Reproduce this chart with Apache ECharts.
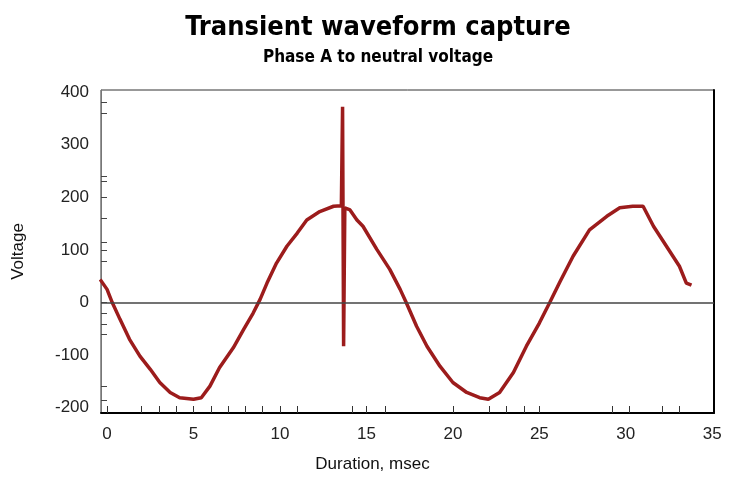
<!DOCTYPE html>
<html>
<head>
<meta charset="utf-8">
<title>Transient waveform capture</title>
<script src="https://cdn.jsdelivr.net/npm/echarts@6/dist/echarts.min.js"></script>
<style>
  html, body { margin: 0; padding: 0; background: #fff; }
  #chart { width: 730px; height: 490px; }
</style>
</head>
<body>
<div id="chart"></div>
<script>
// trace: time (ms) and voltage
var timeMs = [-0.4, 0, 0.3, 0.75, 1.3, 1.9, 2.5, 3.05, 3.65, 4.2, 5.0, 5.45, 5.95, 6.5, 7.3, 7.9,
  8.45, 8.85, 9.25, 9.8, 10.4, 11.0, 11.55, 12.3, 13.1, 13.55, 13.62, 13.68, 13.75, 14.05, 14.45,
  14.8, 15.6, 16.35, 16.95, 17.3, 17.9, 18.5, 19.25, 20.0, 20.8, 21.55, 22.05, 22.7, 23.5, 24.25,
  25.0, 25.6, 26.2, 26.95, 27.9, 28.9, 29.65, 30.4, 31.0, 31.6, 32.35, 33.1, 33.5, 33.8];
var voltage = [44, 25, 0, -32, -70, -102, -127, -152, -171, -181, -184, -181, -159, -124, -86, -51,
  -20, 6, 37, 75, 107, 132, 157, 173, 183, 184, 372, -83, 180, 176, 157,
  145, 101, 63, 25, 0, -45, -83, -121, -152, -171, -181, -184, -171, -133, -83,
  -39, 0, 40, 88, 138, 164, 180, 183, 183, 145, 107, 69, 37, 33];

var xLabels = [0, 5, 10, 15, 20, 25, 30, 35];
var yLabels = [-200, -100, 0, 100, 200, 300, 400];
var xTicks = [0, 2, 3, 4, 5, 6, 7, 8, 9, 10, 11, 14.2, 15, 16.1, 20, 22.1, 23.1, 24.1, 25, 29.2, 30.2, 32.1, 33.1];
var yTicks = [380, 360, 240, 230, 200, 160, 115, 100, 78, 0, -20, -42, -60, -160, -185];

var points = [];
for (var i = 0; i < timeMs.length; i++) {
  points.push([timeMs[i], voltage[i]]);
}

var chart = echarts.init(document.getElementById('chart'));
var font = 'Liberation Sans, Arial, sans-serif';

var option = {
  animation: false,
  backgroundColor: '#fff',
  title: {
    text: 'Transient waveform capture',
    subtext: 'Phase A to neutral voltage',
    left: 373,
    textAlign: 'center',
    top: 9,
    itemGap: 8,
    textStyle: { fontFamily: 'DejaVu Sans Condensed, DejaVu Sans', fontWeight: 'bold', fontSize: 27, color: '#000' },
    subtextStyle: { fontFamily: 'DejaVu Sans Condensed, DejaVu Sans', fontWeight: 'bold', fontSize: 17, color: '#000' }
  },
  grid: {
    left: 101, right: 16, top: 90, bottom: 77,
    show: true, borderColor: '#333', borderWidth: 1
  },
  xAxis: {
    type: 'value',
    min: -0.35,
    max: 35.1,
    name: 'Duration, msec',
    nameLocation: 'middle',
    nameGap: 43,
    nameTextStyle: { fontFamily: font, fontSize: 17, color: '#111', padding: [0, 70, 0, 0] },
    splitLine: { show: false },
    axisLine: { show: true, onZero: false, lineStyle: { color: '#000', width: 2 } },
    axisTick: { show: true, inside: true, length: 7, customValues: xTicks, lineStyle: { color: '#333' } },
    axisLabel: { customValues: xLabels, margin: 13, fontFamily: font, fontSize: 17, color: '#222' }
  },
  yAxis: [{
    type: 'value',
    min: -210,
    max: 404,
    name: 'Voltage',
    nameLocation: 'middle',
    nameGap: 74,
    nameRotate: 90,
    nameTextStyle: { fontFamily: font, fontSize: 17, color: '#111' },
    splitLine: { show: false },
    axisLine: { show: true, onZero: false, lineStyle: { color: '#777', width: 1 } },
    axisTick: { show: true, inside: true, length: 6, customValues: yTicks, lineStyle: { color: '#444' } },
    axisLabel: { customValues: yLabels, margin: 12, fontFamily: font, fontSize: 17, color: '#222' }
  }, {
    type: 'value',
    position: 'right',
    min: -210,
    max: 404,
    splitLine: { show: false },
    axisLine: { show: true, onZero: false, lineStyle: { color: '#000', width: 2 } },
    axisTick: { show: false },
    axisLabel: { show: false }
  }],
  series: [{
    type: 'line',
    data: points,
    showSymbol: false,
    symbol: 'none',
    lineStyle: { color: '#9c1c1c', width: 3.5 },
    markLine: {
      silent: true,
      symbol: 'none',
      label: { show: false },
      lineStyle: { color: '#444', width: 1.5, type: 'solid' },
      data: [{ yAxis: 0 }]
    },
    z: 3
  }]
};

chart.setOption(option);
</script>
</body>
</html>
